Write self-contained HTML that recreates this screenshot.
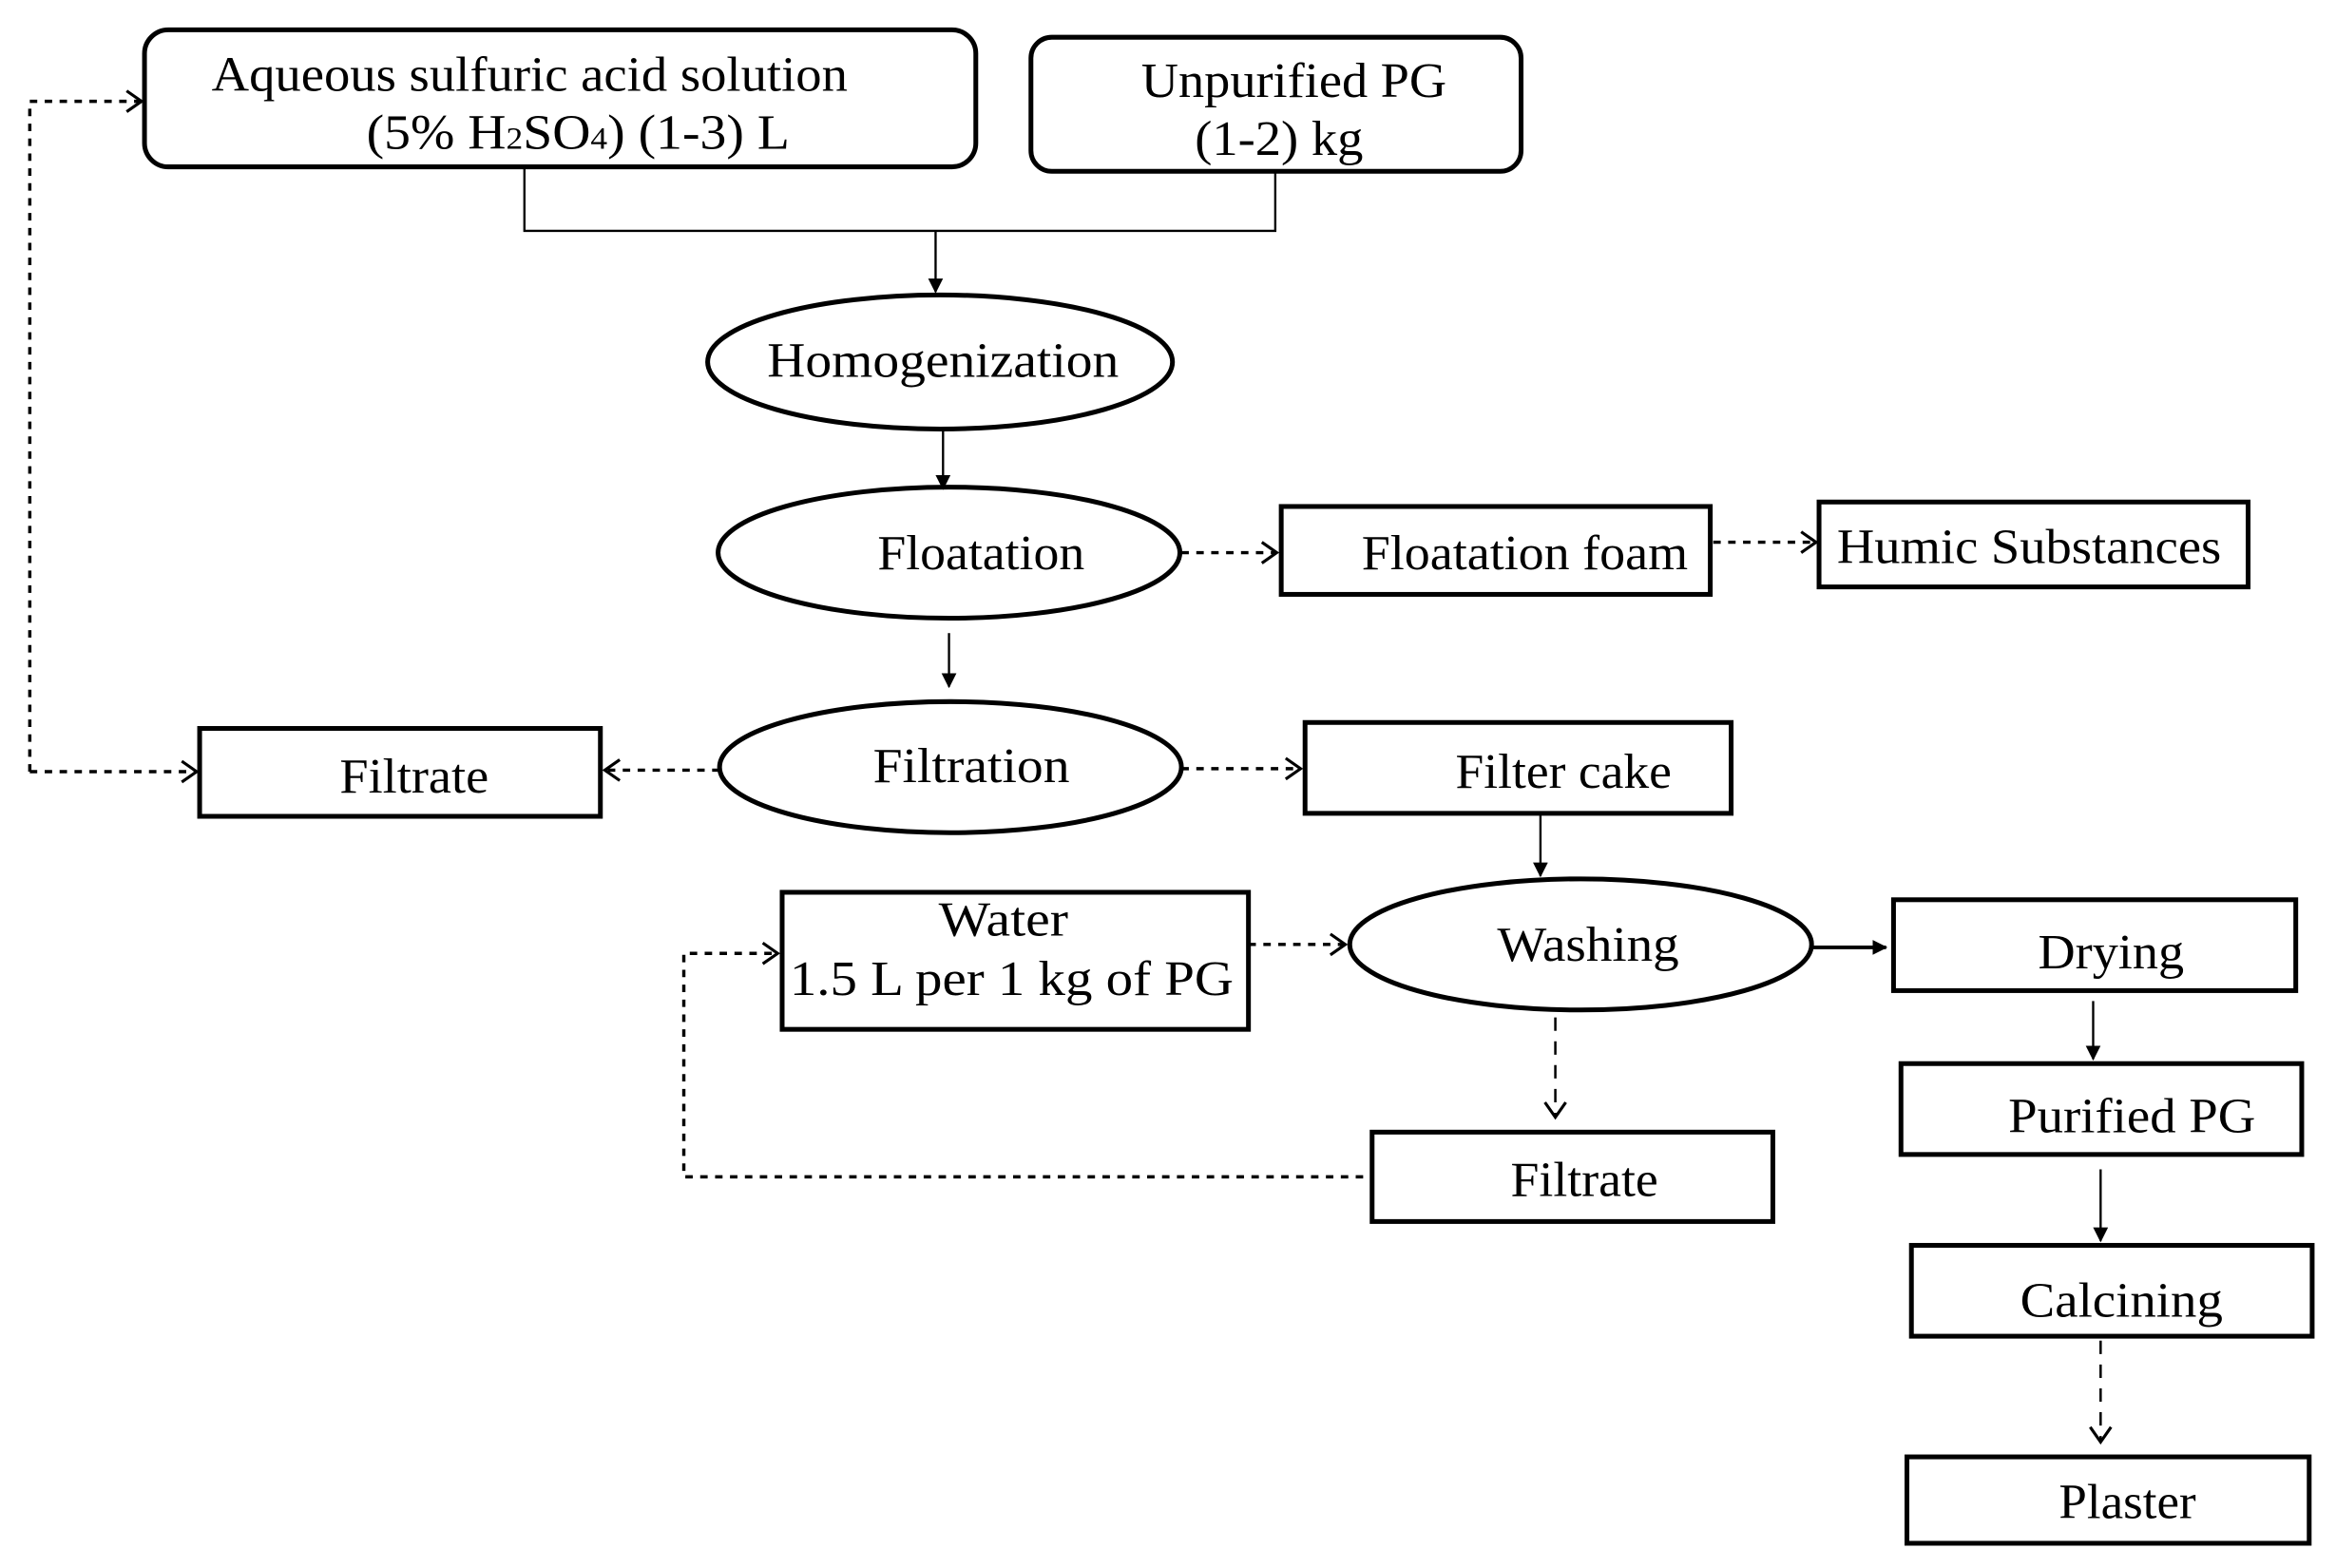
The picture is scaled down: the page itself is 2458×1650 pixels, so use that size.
<!DOCTYPE html>
<html><head><meta charset="utf-8"><style>html,body{margin:0;padding:0;background:#fff;}svg{display:block}text{font-family:"Liberation Serif","Times New Roman",serif;font-size:33px}</style></head>
<body>
<svg width="2458" height="1650" viewBox="0 0 1568 1052.6" preserveAspectRatio="none" xmlns="http://www.w3.org/2000/svg">
<defs>
<marker id="a" markerWidth="10" markerHeight="10" refX="9" refY="5" orient="auto" markerUnits="userSpaceOnUse"><path d="M0,0 L10,5 L0,10 z" fill="#000"/></marker>
<marker id="o" markerWidth="14" markerHeight="16" refX="12" refY="8" orient="auto" markerUnits="userSpaceOnUse"><path d="M2,1 L12,8 L2,15" fill="none" stroke="#000" stroke-width="2"/></marker>
</defs>
<g fill="none" stroke="#000" stroke-width="3.2">
<rect x="97" y="20" width="558" height="92" rx="16"/>
<rect x="692" y="25" width="329" height="90" rx="14"/>
<ellipse cx="631" cy="243" rx="156" ry="45"/>
<ellipse cx="637" cy="371" rx="155" ry="44"/>
<ellipse cx="638" cy="515" rx="155" ry="44"/>
<ellipse cx="1061" cy="634" rx="155" ry="44"/>
<rect x="860" y="340" width="288" height="59"/>
<rect x="1221" y="337" width="288" height="57"/>
<rect x="134" y="489" width="269" height="59"/>
<rect x="876" y="485" width="286" height="61"/>
<rect x="525" y="599" width="313" height="92"/>
<rect x="1271" y="604" width="270" height="61"/>
<rect x="1276" y="714" width="269" height="61"/>
<rect x="1283" y="836" width="269" height="61"/>
<rect x="1280" y="978" width="270" height="58"/>
<rect x="921" y="760" width="269" height="60"/>
</g>
<g fill="none" stroke="#000" stroke-width="1.5">
<path d="M352,112 V155 H856 V115"/>
<path d="M628,155 V196" marker-end="url(#a)"/>
<path d="M633,288 V328" marker-end="url(#a)"/>
<path d="M637,425 V461" marker-end="url(#a)"/>
<path d="M1034,546 V588" marker-end="url(#a)"/>
<path d="M1405,672 V711" marker-end="url(#a)"/>
<path d="M1410,785 V833" marker-end="url(#a)"/>
<path d="M1217,636 H1266" stroke-width="2.5" marker-end="url(#a)"/>
</g>
<g fill="none" stroke="#000" stroke-width="2.2" stroke-dasharray="5,5">
<path d="M793,371 H857" marker-end="url(#o)"/>
<path d="M1150,364 H1219" marker-end="url(#o)"/>
<path d="M483,517 H406" marker-end="url(#o)"/>
<path d="M793,516 H873" marker-end="url(#o)"/>
<path d="M838,634 H903" marker-end="url(#o)"/>
<path d="M20,518 V68 H95" marker-end="url(#o)"/>
<path d="M20,518 H132" marker-end="url(#o)"/>
<path d="M915,790 H459 V640 H522" marker-end="url(#o)"/>
<path d="M1044,683 V750" stroke-width="1.6" stroke-dasharray="9,7" marker-end="url(#o)"/>
<path d="M1410,900 V968" stroke-width="1.6" stroke-dasharray="9,7" marker-end="url(#o)"/>
</g>
<g fill="#000">
<text x="142" y="61" textLength="427" lengthAdjust="spacingAndGlyphs">Aqueous sulfuric acid solution</text>
<text x="246" y="100" textLength="284" lengthAdjust="spacingAndGlyphs">(5% H<tspan font-size="21">2</tspan>SO<tspan font-size="21">4</tspan>) (1-3) L</text>
<text x="766" y="65" textLength="205" lengthAdjust="spacingAndGlyphs">Unpurified PG</text>
<text x="802" y="104" textLength="113" lengthAdjust="spacingAndGlyphs">(1-2) kg</text>
<text x="515" y="253" textLength="236" lengthAdjust="spacingAndGlyphs">Homogenization</text>
<text x="589" y="382" textLength="139" lengthAdjust="spacingAndGlyphs">Floatation</text>
<text x="586" y="525" textLength="132" lengthAdjust="spacingAndGlyphs">Filtration</text>
<text x="914" y="382" textLength="219" lengthAdjust="spacingAndGlyphs">Floatation foam</text>
<text x="1233" y="378" textLength="258" lengthAdjust="spacingAndGlyphs">Humic Substances</text>
<text x="228" y="532" textLength="100" lengthAdjust="spacingAndGlyphs">Filtrate</text>
<text x="977" y="529" textLength="145" lengthAdjust="spacingAndGlyphs">Filter cake</text>
<text x="630" y="628" textLength="87" lengthAdjust="spacingAndGlyphs">Water</text>
<text x="530" y="668" textLength="298" lengthAdjust="spacingAndGlyphs">1.5 L per 1 kg of PG</text>
<text x="1005" y="645" textLength="122" lengthAdjust="spacingAndGlyphs">Washing</text>
<text x="1368" y="650" textLength="98" lengthAdjust="spacingAndGlyphs">Drying</text>
<text x="1348" y="760" textLength="166" lengthAdjust="spacingAndGlyphs">Purified PG</text>
<text x="1356" y="884" textLength="136" lengthAdjust="spacingAndGlyphs">Calcining</text>
<text x="1382" y="1019" textLength="92" lengthAdjust="spacingAndGlyphs">Plaster</text>
<text x="1014" y="803" textLength="99" lengthAdjust="spacingAndGlyphs">Filtrate</text>
</g>
</svg>
</body></html>
